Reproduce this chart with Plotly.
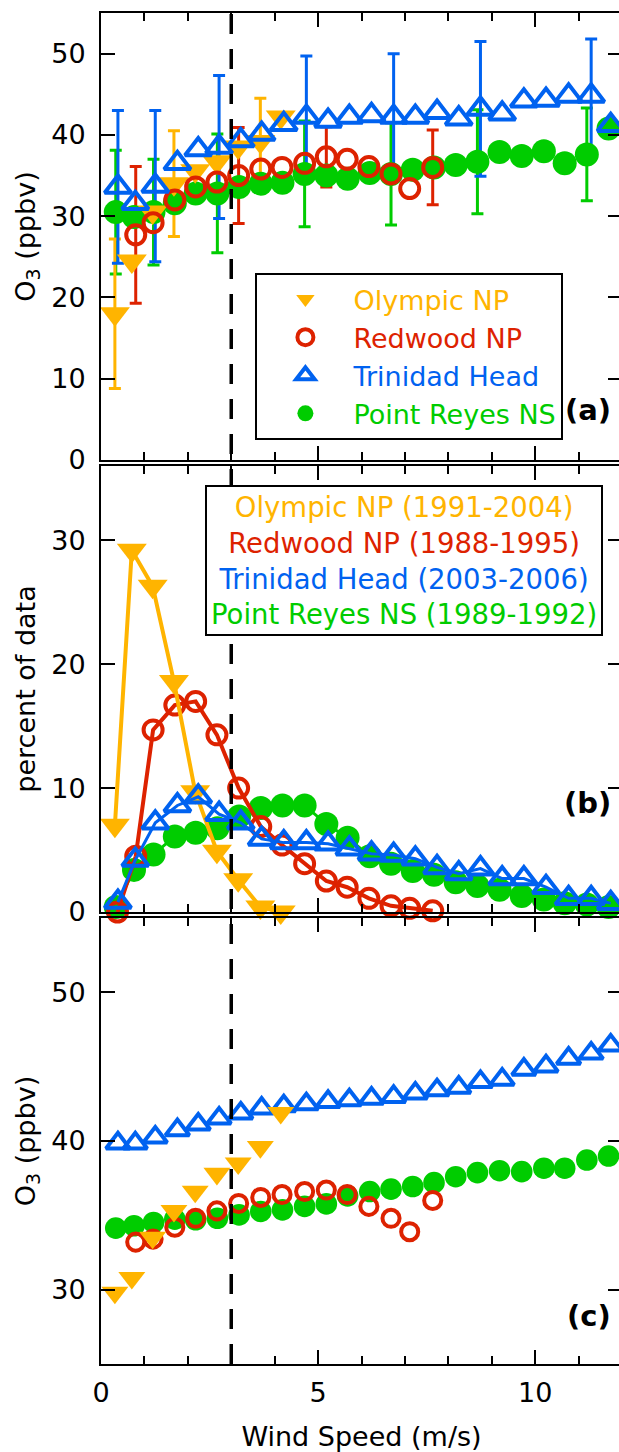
import plotly.graph_objects as go

# ---------------- data ----------------
station_names = ["Olympic NP", "Redwood NP", "Trinidad Head", "Point Reyes NS"]
station_years = ["1991-2004", "1988-1995", "2003-2006", "1989-1992"]

# wind-speed bin centres (m/s)
olympic_ws = [0.32, 0.71, 1.19, 1.68, 2.17, 2.67, 3.16, 3.67, 4.14]
redwood_ws = [0.38, 0.80, 1.20, 1.70, 2.18, 2.67, 3.17, 3.68, 4.17, 4.69, 5.19,
              5.67, 6.17, 6.68, 7.11, 7.64]
trinidad_ws = [0.39, 0.79, 1.25, 1.76, 2.24, 2.72, 3.22, 3.70, 4.21, 4.73, 5.23,
               5.72, 6.23, 6.74, 7.24, 7.74, 8.24, 8.74, 9.24, 9.74, 10.25, 10.77,
               11.29, 11.74]
reyes_ws = [0.34, 0.76, 1.21, 1.70, 2.18, 2.68, 3.18, 3.68, 4.18, 4.69, 5.19,
            5.68, 6.19, 6.68, 7.18, 7.67, 8.17, 8.67, 9.18, 9.69, 10.20, 10.68,
            11.19, 11.69]

# (a) mean O3 (ppbv) and standard deviation (None = no bar drawn)
olympic_o3 = [18.0, 24.5, 30.5, 34.0, 35.6, 36.7, 38.5, 39.2, 42.2]
olympic_sd = [9.2, None, None, 6.5, None, None, None, 5.3, None]
redwood_o3 = [None, 27.7, 29.2, 32.0, 33.6, 34.2, 35.0, 35.8, 36.0, 36.5, 37.3,
              37.0, 36.1, 35.2, 33.4, 36.0]
redwood_sd = [None, 8.4, None, None, None, None, 5.9, None, None, None, 3.7,
              None, None, None, None, 4.6]
trinidad_o3 = [33.6, 31.6, 33.7, 36.5, 38.2, 38.5, 39.3, 40.1, 41.3, 42.2, 41.7,
               42.2, 42.4, 42.2, 42.2, 42.8, 42.0, 43.2, 42.6, 44.2, 44.3, 44.8,
               44.8, 41.2]
trinidad_sd = [9.4, None, 9.3, None, None, 8.8, None, None, None, 7.5, None,
               None, None, 7.8, None, None, None, 8.3, None, None, None, None,
               7.0, None]
reyes_o3 = [30.5, 29.9, 30.5, 31.6, 32.8, 32.8, 33.6, 34.0, 34.1, 35.2, 35.0,
            34.6, 35.3, 35.2, 35.7, 36.0, 36.3, 36.7, 37.9, 37.4, 38.0, 36.5,
            37.6, 40.8]
reyes_sd = [7.6, None, 6.5, None, None, 7.3, None, None, None, 6.5, None,
            None, None, 6.3, None, None, None, 6.4, None, None, None, None,
            5.7, None]

# (b) percent of data in each bin
olympic_pct = [7.0, 29.2, 26.3, 18.6, 9.7, 4.9, 2.6, 0.4, 0.0]
redwood_pct = [0.0, 4.5, 14.7, 16.7, 17.0, 14.3, 10.0, 6.9, 5.4, 3.9, 2.5, 2.0,
               1.1, 0.5, 0.3, 0.1]
trinidad_pct = [0.8, 4.2, 7.2, 8.6, 9.3, 7.9, 7.2, 5.9, 5.6, 5.6, 5.5, 5.1, 4.7,
                4.6, 4.3, 3.6, 3.1, 3.5, 2.7, 2.7, 2.0, 1.1, 1.1, 0.7]
reyes_pct = [0.4, 3.4, 4.65, 6.1, 6.4, 6.75, 7.7, 8.4, 8.6, 8.6, 7.1, 6.0, 4.5,
             3.9, 3.3, 3.0, 2.4, 2.1, 1.8, 1.3, 1.0, 0.7, 0.6, 0.4]

# (c) O3 (ppbv)
olympic_c = [29.8, 30.8, 33.5, 35.3, 36.6, 37.8, 38.5, 39.6, 41.9]
redwood_c = [None, 33.2, 33.4, 34.2, 34.8, 35.3, 35.8, 36.2, 36.4, 36.6, 36.7,
             36.4, 35.6, 34.8, 33.9, 36.0]
trinidad_c = [39.85, 39.85, 40.25, 40.74, 41.12, 41.52, 41.86, 42.19, 42.35,
              42.48, 42.64, 42.75, 42.86, 42.98, 43.2, 43.42, 43.6, 43.98, 44.14,
              44.81, 45.03, 45.55, 45.89, 46.44]
reyes_c = [34.14, 34.3, 34.52, 34.74, 34.7, 34.8, 35.03, 35.26, 35.37, 35.6,
           35.77, 36.31, 36.6, 36.76, 36.94, 37.2, 37.6, 37.87, 38.0, 37.94,
           38.17, 38.17, 38.72, 38.99]

wind_threshold = 3.0

# ---------------- styles ----------------
FONT = "DejaVu Sans"
C_OLY = "#FFB400"
C_RED = "#DD2200"
C_TRI = "#0062F0"
C_PRY = "#00CC00"

sty = {
    "oly": dict(color=C_OLY, symbol="triangle-down", size=26, lw=0),
    "red": dict(color=C_RED, symbol="circle-open", size=19, lw=4),
    "tri": dict(color=C_TRI, symbol="triangle-up-open", size=23, lw=4),
    "pry": dict(color=C_PRY, symbol="circle", size=24, lw=0),
}

fig = go.Figure()


def marker(key, scale=1.0):
    s = sty[key]
    return dict(color=s["color"], symbol=s["symbol"], size=s["size"] * scale,
                line=dict(color=s["color"], width=s["lw"]))


def add_err(x, y, sd, color, xa, ya):
    keep = [i for i in range(len(x)) if sd[i] is not None and y[i] is not None]
    fig.add_trace(go.Scatter(
        x=[x[i] for i in keep], y=[y[i] for i in keep], mode="markers",
        marker=dict(size=1, opacity=0),
        error_y=dict(type="data", array=[sd[i] for i in keep], color=color,
                     thickness=3, width=6),
        xaxis=xa, yaxis=ya, showlegend=False, hoverinfo="skip", cliponaxis=False))


# ---- panel (a) ----
add_err(reyes_ws, reyes_o3, reyes_sd, C_PRY, "x", "y")
add_err(olympic_ws, olympic_o3, olympic_sd, C_OLY, "x", "y")
add_err(redwood_ws, redwood_o3, redwood_sd, C_RED, "x", "y")
add_err(trinidad_ws, trinidad_o3, trinidad_sd, C_TRI, "x", "y")

panel_a = [
    ("pry", reyes_ws, reyes_o3, 3, C_PRY),
    ("oly", olympic_ws, olympic_o3, 0, C_OLY),
    ("red", redwood_ws, redwood_o3, 1, C_RED),
    ("tri", trinidad_ws, trinidad_o3, 2, C_TRI),
]
for key, x, y, idx, col in panel_a:
    fig.add_trace(go.Scatter(
        x=x, y=y, mode="markers", marker=marker(key),
        name=f"<span style='color:{col}'>{station_names[idx]}</span>",
        legendrank=idx + 1, legendgroup=f"g{idx}", showlegend=True,
        xaxis="x", yaxis="y", cliponaxis=False))

# ---- panel (b) ----
panel_b = [
    ("pry", reyes_ws, reyes_pct, 3),
    ("red", redwood_ws, redwood_pct, 4),
    ("oly", olympic_ws, olympic_pct, 4),
    ("tri", trinidad_ws, trinidad_pct, 3),
]
for key, x, y, lw in panel_b:
    fig.add_trace(go.Scatter(
        x=x, y=y, mode="lines+markers", marker=marker(key),
        line=dict(color=sty[key]["color"], width=lw),
        showlegend=False, xaxis="x2", yaxis="y2", cliponaxis=False))

# ---- panel (c) ----
panel_c = [
    ("pry", reyes_ws, reyes_c),
    ("red", redwood_ws, redwood_c),
    ("tri", trinidad_ws, trinidad_c),
    ("oly", olympic_ws, olympic_c),
]
for key, x, y in panel_c:
    fig.add_trace(go.Scatter(
        x=x, y=y, mode="markers", marker=marker(key, 0.9),
        showlegend=False, xaxis="x3", yaxis="y3", cliponaxis=False))

# ---------------- axes ----------------
W, H = 624, 1452
ML, MR, MT, MB = 101, 0, 13, 88
ph = H - MT - MB
TF = 27  # tick / title font size


def dom(top_px, bot_px):
    return [(H - MB - bot_px) / ph, (H - MB - top_px) / ph]


axis_common = dict(showline=True, linecolor="black", linewidth=2, mirror="ticks",
                   ticks="inside", ticklen=14, tickwidth=2, tickcolor="black",
                   showgrid=False, zeroline=False,
                   tickfont=dict(size=TF, family=FONT, color="black"))

xcommon = dict(axis_common, range=[0, 12], tick0=0, dtick=5,
               minor=dict(dtick=1, ticks="inside", ticklen=8, tickwidth=2,
                          tickcolor="black", showgrid=False))

fig.update_layout(
    width=W, height=H,
    margin=dict(l=ML, r=MR, t=MT, b=MB, pad=0),
    paper_bgcolor="white", plot_bgcolor="white",
    font=dict(family=FONT, color="black", size=TF),
    xaxis=dict(xcommon, anchor="y", showticklabels=False),
    xaxis2=dict(xcommon, anchor="y2", matches="x", showticklabels=False),
    xaxis3=dict(xcommon, anchor="y3", matches="x", ticklabelstandoff=4,
                title=dict(text="Wind Speed (m/s)", standoff=22,
                           font=dict(size=TF))),
    yaxis=dict(axis_common, domain=dom(13, 460), range=[0, 55], dtick=10,
               tick0=0, anchor="x", ticklabelstandoff=8,
               title=dict(text="O<sub>3</sub> (ppbv)", standoff=8,
                          font=dict(size=TF))),
    yaxis2=dict(axis_common, domain=dom(466, 912), range=[0, 36], dtick=10,
                tick0=0, anchor="x2", ticklabelstandoff=8,
                title=dict(text="percent of data", standoff=8,
                           font=dict(size=TF))),
    yaxis3=dict(axis_common, domain=dom(918, 1364), range=[25, 55], dtick=10,
                tick0=0, anchor="x3", ticklabelstandoff=8,
                title=dict(text="O<sub>3</sub> (ppbv)", standoff=8,
                           font=dict(size=TF))),
    legend=dict(x=(256 - ML) / (W - ML), y=(H - MB - 273) / ph,
                xanchor="left", yanchor="top", bgcolor="white",
                bordercolor="black", borderwidth=2, itemwidth=86,
                tracegroupgap=4,
                font=dict(size=27, family=FONT), traceorder="normal"),
)

# dashed reference line at the wind-speed threshold, through all panels
fig.add_shape(type="line", xref="x3", yref="paper", x0=wind_threshold,
              x1=wind_threshold, y0=0, y1=1,
              line=dict(color="black", width=3.5, dash="20px,15px"))

# panel (b) legend box
cols = [C_OLY, C_RED, C_TRI, C_PRY]
leg_b = "<br>".join(f"<span style='color:{c}'>{n} ({yr})</span>"
                    for c, n, yr in zip(cols, station_names, station_years))
fig.add_annotation(text=leg_b, xref="paper", yref="paper",
                   x=(405.5 - ML) / (W - ML), y=(H - MB - 560) / ph,
                   xanchor="center", yanchor="middle", align="center",
                   showarrow=False, bordercolor="black", borderwidth=2,
                   borderpad=4, bgcolor="white",
                   font=dict(size=27.5, family=FONT))

for lab, ycen in [("(a)", 410), ("(b)", 803), ("(c)", 1316)]:
    fig.add_annotation(text=f"<b>{lab}</b>", xref="paper", yref="paper",
                       x=(615 - ML) / (W - ML), y=(H - MB - ycen) / ph,
                       xanchor="right", yanchor="middle", showarrow=False,
                       font=dict(size=29, family=FONT, color="black"))

fig.write_html("out.html", config={"displayModeBar": False},
               post_script="document.body.style.margin='0';"
                           "document.body.style.overflow='hidden';")
